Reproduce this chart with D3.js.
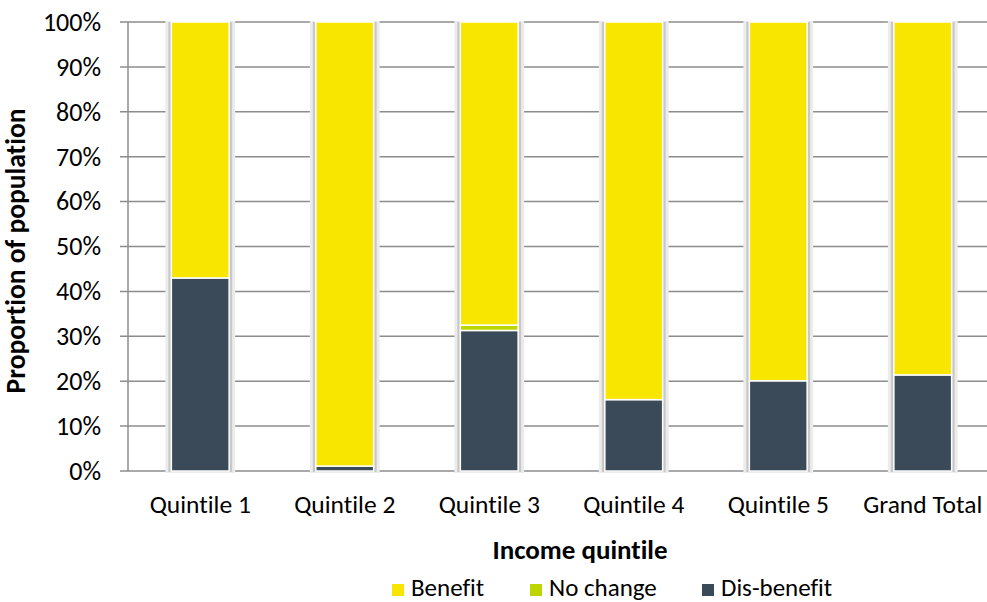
<!DOCTYPE html>
<html><head><meta charset="utf-8">
<script src="https://cdn.jsdelivr.net/npm/d3@7"></script>
<style>body{margin:0;background:#fff}svg{display:block;font-family:Carlito,Lato,"Open Sans","Liberation Sans",sans-serif;font-variant-ligatures:none}</style>
</head><body><svg id="c" width="987" height="602"></svg>
<script>
const categories = ["Quintile 1","Quintile 2","Quintile 3","Quintile 4","Quintile 5","Grand Total"];
const disBenefit = [43.0, 1.1, 31.3, 15.9, 20.1, 21.4];
const noChange = [0, 0, 1.2, 0, 0, 0];
const benefit = [57.0, 98.9, 67.5, 84.1, 79.9, 78.6];
const seriesNames = ["Dis-benefit","No change","Benefit"];
const colors = {"Benefit":"#F8E500","No change":"#BED600","Dis-benefit":"#3A4A59"};
const yTicks = [0,10,20,30,40,50,60,70,80,90,100];

(function(){
const svg = d3.select("#c");
const pLeft = 128, pTop = 22, pBottom = 471, pRight = 995;
const x = d3.scaleBand().domain(categories).range([pLeft, pRight]).paddingInner(0.6).paddingOuter(0.3);
const xc = d3.scaleBand().domain(categories).range([pLeft, pRight]);
const y = d3.scaleLinear().domain([0,100]).range([pBottom, pTop]);

svg.append("g").selectAll("line").data(yTicks).join("line")
  .attr("x1", pLeft-8).attr("x2", pRight).attr("y1", d=>y(d)).attr("y2", d=>y(d))
  .attr("stroke","#8c8c8c").attr("stroke-width",1.5);
svg.append("line").attr("x1",pLeft).attr("x2",pLeft).attr("y1",pTop).attr("y2",pBottom)
  .attr("stroke","#8c8c8c").attr("stroke-width",1.5);

svg.append("g").selectAll("text").data(yTicks).join("text")
  .attr("x",101).attr("y",d=>y(d)).attr("dy","0.34em").attr("text-anchor","end")
  .attr("font-size",26).attr("fill","#000").text(d=>d+"%");

const rows = categories.map((c,i)=>({cat:c,"Dis-benefit":disBenefit[i],"No change":noChange[i],"Benefit":benefit[i]}));
const stack = d3.stack().keys(seriesNames)(rows);

svg.append("g").selectAll("rect").data(categories).join("rect")
  .attr("x",d=>x(d)-6).attr("width",x.bandwidth()+12).attr("y",y(100)-1).attr("height",y(0)-y(100)+3)
  .attr("fill","#ececec");
svg.append("g").selectAll("rect").data(categories).join("rect")
  .attr("x",d=>x(d)-3).attr("width",x.bandwidth()+6).attr("y",y(100)).attr("height",y(0)-y(100)+1)
  .attr("fill","#c8c8c8");

stack.forEach(s=>{
  svg.append("g").selectAll("rect").data(s.filter(d=>d[1]-d[0]>0)).join("rect")
    .attr("x",d=>x(d.data.cat)).attr("width",x.bandwidth())
    .attr("y",d=>y(d[1])).attr("height",d=>y(d[0])-y(d[1]))
    .attr("fill",colors[s.key]).attr("stroke","#fff").attr("stroke-width",1.5);
});

svg.append("g").selectAll("text").data(categories).join("text")
  .attr("x",d=>xc(d)+xc.bandwidth()/2).attr("y",513).attr("text-anchor","middle")
  .attr("font-size",25.5).attr("fill","#000").text(d=>d);

svg.append("text").attr("x",580).attr("y",559).attr("text-anchor","middle")
  .attr("font-size",27).attr("font-weight","bold").text("Income quintile");
svg.append("text").attr("transform","translate(25,251) rotate(-90)").attr("text-anchor","middle")
  .attr("font-size",27.5).attr("font-weight","bold").text("Proportion of population");

const legendItems = ["Benefit","No change","Dis-benefit"];
const legX = [392, 530, 702];
const lg = svg.append("g").selectAll("g").data(legendItems).join("g")
  .attr("transform",(d,i)=>`translate(${legX[i]},0)`);
lg.append("rect").attr("x",0).attr("y",584).attr("width",12).attr("height",12).attr("fill",d=>colors[d]);
lg.append("text").attr("x",19).attr("y",596).attr("font-size",25).text(d=>d);
})();
</script></body></html>
